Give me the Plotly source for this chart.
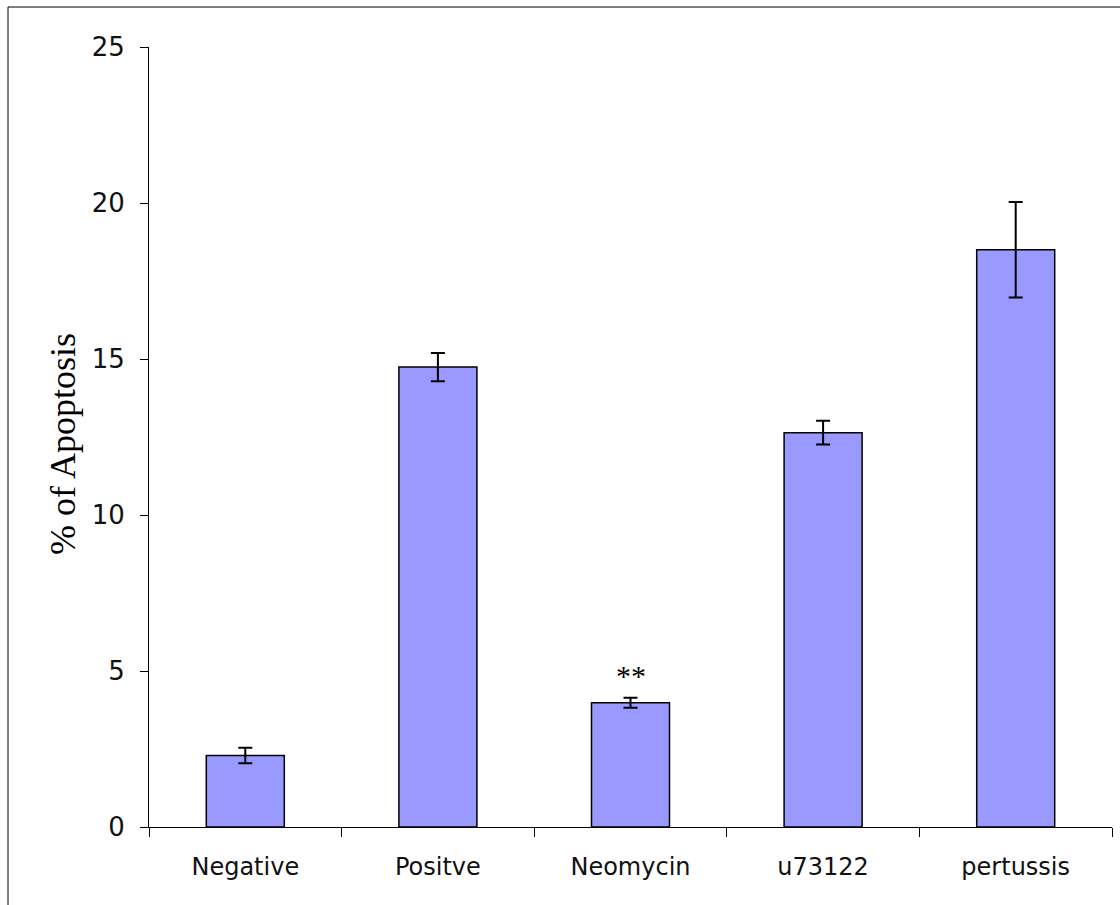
import plotly.graph_objects as go

# Apoptosis measurements per treatment group (mean and error)
groups = ["Negative", "Positve", "Neomycin", "u73122", "pertussis"]
apoptosis_pct = [2.29, 14.74, 3.98, 12.64, 18.50]
apoptosis_err = [0.25, 0.45, 0.16, 0.38, 1.53]
y_ticks = [0, 5, 10, 15, 20, 25]
significance_group = "Neomycin"
significance_mark = "**"
significance_y = 4.85
y_title = "% of Apoptosis"

W, H = 1120, 905
L, R, T, B = 149, 8, 47, 78
plot_w = W - L - R
plot_h = H - T - B

# pixel -> paper coordinate helpers
px2x = lambda p: (p - L) / plot_w
px2y = lambda p: (H - B - p) / plot_h

fig = go.Figure(
    go.Bar(
        x=groups,
        y=apoptosis_pct,
        width=0.405,
        marker=dict(color="#9999FF", line=dict(color="black", width=1.5)),
        error_y=dict(
            type="data",
            array=apoptosis_err,
            visible=True,
            color="black",
            thickness=2,
            width=7,
        ),
    )
)

fig.add_annotation(
    x=significance_group,
    y=significance_y,
    text=significance_mark,
    showarrow=False,
    yanchor="middle",
    font=dict(family="Liberation Serif", size=30, color="black"),
)

# Rotated y-axis title
fig.add_annotation(
    xref="paper", yref="paper",
    x=px2x(63), y=px2y(444),
    text=y_title,
    textangle=-90,
    showarrow=False,
    xanchor="center", yanchor="middle",
    font=dict(family="Liberation Serif", size=36, color="black"),
)

# Outer frame: left and top edges of the chart area
fig.add_shape(type="line", xref="paper", yref="paper",
              x0=px2x(8), x1=px2x(1125), y0=px2y(7), y1=px2y(7),
              line=dict(color="black", width=1))
fig.add_shape(type="line", xref="paper", yref="paper",
              x0=px2x(8), x1=px2x(8), y0=px2y(7), y1=px2y(910),
              line=dict(color="black", width=1))

fig.update_layout(
    width=W,
    height=H,
    margin=dict(l=L, r=R, t=T, b=B),
    plot_bgcolor="white",
    paper_bgcolor="white",
    showlegend=False,
    font=dict(family="DejaVu Sans", color="black"),
    xaxis=dict(
        type="category",
        showline=True,
        linecolor="black",
        linewidth=1,
        ticks="outside",
        tickson="boundaries",
        ticklen=9,
        tickcolor="black",
        showgrid=False,
        tickfont=dict(family="DejaVu Sans", size=24, color="#111111"),
        ticklabelstandoff=18,
    ),
    yaxis=dict(
        range=[0, 25],
        tickvals=y_ticks,
        showline=True,
        linecolor="black",
        linewidth=1,
        ticks="outside",
        ticklen=8,
        tickcolor="black",
        showgrid=False,
        zeroline=False,
        tickfont=dict(family="DejaVu Sans", size=26, color="#111111"),
        ticklabelstandoff=10,
    ),
)

fig.write_html("out.html")
